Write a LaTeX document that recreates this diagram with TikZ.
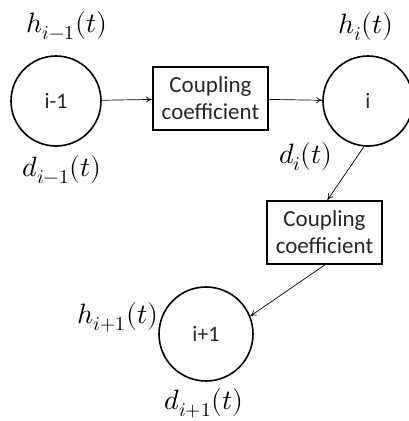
\documentclass[tikz,border=0pt]{standalone}
\usepackage{fontspec}
\usepackage{unicode-math}
\setmathfont{Latin Modern Math}
\newfontfamily\boxfont{Carlito}
\usetikzlibrary{arrows.meta}
\begin{document}
\begin{tikzpicture}[x=1pt,y=-1pt,
  cell/.style={circle,draw,line width=1.6pt,inner sep=0pt,font=\boxfont\fontsize{22}{26}\selectfont,text=black!85},
  coup/.style={rectangle,draw,line width=2.2pt,minimum width=115pt,minimum height=63pt,
    align=center,inner sep=0pt,font=\boxfont\fontsize{23}{27}\selectfont,text=black!85},
  lab/.style={inner sep=0pt,font=\fontsize{28}{32}\selectfont},
  link/.style={-{To[length=6pt,width=6pt]},line width=0.7pt}]
\useasboundingbox (0,0) rectangle (409,421);
% cells
\node[cell,minimum size=90pt] (c1) at (56,101) {i-1};
\node[cell,minimum size=90pt] (c2) at (368,101) {i};
\node[cell,minimum size=94pt] (c3) at (206,334) {i+1};
% coupling boxes
\node[coup] (b1) at (210.5,98.5) {Coupling\\coefficient};
\node[coup] (b2) at (324.5,232.5) {Coupling\\coefficient};
% state labels
\node[lab] (h1) at (67,26) {$h_{i-1}(t)$};
\node[lab] (d1) at (62,170) {$d_{i-1}(t)$};
\node[lab] (h2) at (366,27) {$h_{i}(t)$};
\node[lab] (d2) at (306,157) {$d_{i}(t)$};
\node[lab] (h3) at (118,317) {$h_{i+1}(t)$};
\node[lab] (d3) at (204,403) {$d_{i+1}(t)$};
% links
\draw[link] (c1) -- (b1);
\draw[link] (b1) -- (c2);
\draw[link] (c2.265) -- ([xshift=3pt]b2.north);
\draw[link] (b2.south) -- (c3.22);
\end{tikzpicture}
\end{document}
